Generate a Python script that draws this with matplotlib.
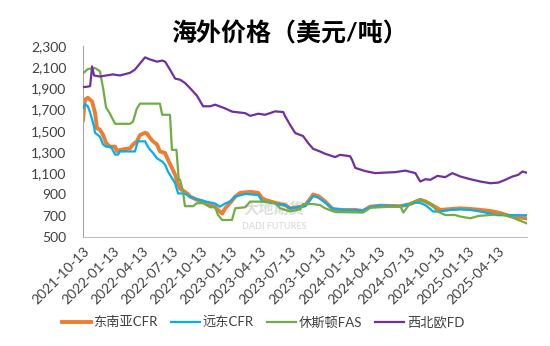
import matplotlib
matplotlib.use("Agg")
import matplotlib.pyplot as plt
import matplotlib.dates as mdates
from matplotlib.ticker import FuncFormatter
import pandas as pd

plt.rcParams['font.family'] = ['Lato', 'Noto Sans CJK SC', 'DejaVu Sans']

# 东南亚CFR
sea_dates = ['2021-10-13', '2021-10-19', '2021-10-28', '2021-11-10', '2021-11-19', '2021-11-25',
             '2021-12-04', '2021-12-14', '2021-12-23', '2022-01-04', '2022-01-20', '2022-01-26',
             '2022-02-04', '2022-03-07', '2022-03-16', '2022-03-28', '2022-04-07', '2022-04-22',
             '2022-04-28', '2022-05-08', '2022-05-17', '2022-05-29', '2022-06-07', '2022-06-23',
             '2022-07-02', '2022-07-14', '2022-07-24', '2022-07-30', '2022-08-08', '2022-08-23',
             '2022-08-30', '2022-09-08', '2022-09-29', '2022-10-18', '2022-11-09', '2022-11-24',
             '2022-12-03', '2022-12-16', '2022-12-25', '2023-01-09', '2023-01-25', '2023-02-09',
             '2023-03-12', '2023-04-06', '2023-04-18', '2023-04-27', '2023-05-19', '2023-06-06',
             '2023-06-28', '2023-07-13', '2023-08-13', '2023-08-29', '2023-09-13', '2023-09-22',
             '2023-10-08', '2023-10-29', '2023-11-14', '2023-11-23', '2023-12-24', '2024-01-30',
             '2024-02-23', '2024-03-16', '2024-04-16', '2024-06-17', '2024-07-17', '2024-08-17',
             '2024-09-02', '2024-09-23', '2024-10-18', '2024-12-19', '2025-02-03', '2025-03-21',
             '2025-04-21', '2025-05-22', '2025-07-10']
sea_vals = [1600, 1790, 1810, 1775, 1670, 1525,
            1510, 1460, 1385, 1350, 1350, 1305,
            1320, 1335, 1370, 1400, 1460, 1480,
            1475, 1430, 1400, 1370, 1305, 1290,
            1225, 1150, 1085, 1020, 955, 925,
            910, 880, 850, 835, 800, 785,
            755, 720, 770, 820, 880, 915,
            925, 915, 865, 850, 830, 815,
            800, 770, 785, 800, 860, 900,
            885, 835, 785, 760, 755, 755,
            745, 785, 795, 790, 810, 850,
            835, 800, 755, 770, 760, 745,
            725, 695, 675]

# 远东CFR
fe_dates = ['2021-10-13', '2021-10-19', '2021-10-28', '2021-11-04', '2021-11-16', '2021-11-19',
            '2021-12-04', '2021-12-14', '2021-12-23', '2022-01-07', '2022-01-20', '2022-01-29',
            '2022-02-04', '2022-03-22', '2022-03-31', '2022-04-22', '2022-05-01', '2022-05-08',
            '2022-05-17', '2022-05-29', '2022-06-14', '2022-06-23', '2022-07-02', '2022-07-14',
            '2022-07-24', '2022-08-02', '2022-08-20', '2022-08-30', '2022-09-08', '2022-09-29',
            '2022-10-24', '2022-11-24', '2022-12-09', '2022-12-25', '2023-01-09', '2023-01-25',
            '2023-02-25', '2023-04-06', '2023-04-18', '2023-05-28', '2023-06-28', '2023-07-13',
            '2023-08-29', '2023-09-13', '2023-09-22', '2023-10-08', '2023-10-29', '2023-11-20',
            '2023-12-24', '2024-02-23', '2024-03-16', '2024-04-16', '2024-06-17', '2024-07-17',
            '2024-08-02', '2024-08-17', '2024-09-02', '2024-09-26', '2024-10-18', '2024-11-18',
            '2024-12-19', '2025-01-18', '2025-02-18', '2025-03-21', '2025-04-12', '2025-07-10']
fe_vals = [1715, 1750, 1730, 1670, 1540, 1480,
           1445, 1370, 1350, 1350, 1275, 1275,
           1305, 1305, 1400, 1400, 1350, 1320,
           1290, 1240, 1210, 1180, 1115, 1055,
           1005, 910, 910, 895, 880, 855,
           835, 815, 785, 815, 835, 880,
           905, 895, 835, 815, 800, 770,
           790, 850, 885, 870, 825, 770,
           755, 750, 785, 795, 790, 810,
           825, 820, 800, 740, 740, 755,
           760, 755, 740, 720, 705, 705]

# 休斯顿FAS
hou_dates = ['2021-10-13', '2021-10-28', '2021-11-19', '2021-12-04', '2021-12-14', '2021-12-23',
             '2022-01-04', '2022-01-20', '2022-03-07', '2022-03-16', '2022-03-28', '2022-04-07',
             '2022-06-07', '2022-06-14', '2022-07-08', '2022-07-14', '2022-07-28', '2022-08-04',
             '2022-08-08', '2022-08-17', '2022-08-23', '2022-09-17', '2022-09-29', '2022-10-18',
             '2022-11-09', '2022-11-24', '2022-12-03', '2022-12-16', '2023-01-15', '2023-01-25',
             '2023-02-25', '2023-03-12', '2023-04-27', '2023-05-28', '2023-06-12', '2023-07-13',
             '2023-08-13', '2023-08-22', '2023-09-22', '2023-10-14', '2023-10-29', '2023-11-29',
             '2024-02-23', '2024-03-16', '2024-06-17', '2024-06-26', '2024-07-17', '2024-08-17',
             '2024-09-02', '2024-09-23', '2024-10-09', '2024-11-02', '2024-12-03', '2024-12-19',
             '2025-01-18', '2025-02-12', '2025-03-21', '2025-04-21', '2025-05-22', '2025-06-15',
             '2025-07-10']
hou_vals = [2040, 2080, 2090, 2060, 1900, 1720,
            1660, 1565, 1565, 1585, 1710, 1755,
            1755, 1650, 1650, 1320, 1320, 1040,
            1040, 930, 790, 790, 818, 818,
            780, 780, 707, 660, 660, 770,
            780, 833, 833, 818, 771, 740,
            760, 810, 810, 800, 770, 735,
            730, 775, 790, 730, 818, 855,
            833, 800, 740, 707, 707, 692,
            676, 698, 707, 717, 692, 660,
            630]

# 西北欧FD
nwe_dates = ['2021-10-13', '2021-10-28', '2021-11-04', '2021-11-10', '2021-11-16', '2021-12-04',
             '2022-01-13', '2022-02-04', '2022-03-07', '2022-03-22', '2022-04-22', '2022-05-08',
             '2022-05-29', '2022-06-14', '2022-06-23', '2022-07-08', '2022-07-24', '2022-08-08',
             '2022-08-23', '2022-09-08', '2022-09-29', '2022-10-18', '2022-11-09', '2022-11-24',
             '2022-12-25', '2023-01-15', '2023-02-25', '2023-03-12', '2023-04-06', '2023-04-27',
             '2023-05-28', '2023-06-22', '2023-06-28', '2023-07-13', '2023-07-29', '2023-08-22',
             '2023-09-07', '2023-09-22', '2023-10-14', '2023-10-29', '2023-11-29', '2023-12-14',
             '2024-01-14', '2024-01-20', '2024-01-30', '2024-03-01', '2024-03-31', '2024-05-01',
             '2024-06-01', '2024-07-02', '2024-08-02', '2024-08-17', '2024-09-02', '2024-09-17',
             '2024-10-09', '2024-11-02', '2024-11-24', '2024-12-19', '2025-01-18', '2025-02-18',
             '2025-03-21', '2025-04-15', '2025-05-06', '2025-05-28', '2025-06-15', '2025-06-28',
             '2025-07-10']
nwe_vals = [1910, 1915, 1920, 2105, 2020, 2010,
            2030, 2020, 2045, 2075, 2190, 2170,
            2150, 2160, 2150, 2075, 1990, 1980,
            1950, 1900, 1830, 1730, 1730, 1745,
            1710, 1680, 1665, 1640, 1660, 1650,
            1682, 1676, 1635, 1556, 1478, 1450,
            1383, 1330, 1304, 1283, 1252, 1273,
            1260, 1226, 1150, 1120, 1101, 1106,
            1110, 1125, 1101, 1022, 1044, 1038,
            1075, 1063, 1101, 1069, 1044, 1022,
            1006, 1012, 1038, 1069, 1085, 1116,
            1106]

tick_dates = pd.date_range('2021-10-01', '2025-04-01', freq='3MS') + pd.Timedelta(days=12)

fig = plt.figure(figsize=(5.5, 3.46), dpi=100)
ax = fig.add_axes([83 / 550, 1 - 237 / 346, (527 - 83) / 550, (237 - 45.7) / 346])

ax.plot(pd.to_datetime(sea_dates), sea_vals, color='#ED7D31', lw=2.8, label='东南亚CFR', zorder=2)
ax.plot(pd.to_datetime(fe_dates), fe_vals, color='#00B0F0', lw=1.6, label='远东CFR', zorder=3)
ax.plot(pd.to_datetime(hou_dates), hou_vals, color='#70AD47', lw=1.6, label='休斯顿FAS', zorder=4)
ax.plot(pd.to_datetime(nwe_dates), nwe_vals, color='#7030A0', lw=1.6, label='西北欧FD', zorder=5)

# watermark
ax.text(0.43, 0.145, '大地期货', transform=ax.transAxes, fontsize=11, fontweight='bold',
        color='#C9C9C9', alpha=0.6, ha='center', va='center', zorder=1)
ax.text(0.43, 0.055, 'DADI FUTURES', transform=ax.transAxes, fontsize=6.5, fontweight='bold',
        color='#C9C9C9', alpha=0.6, ha='center', va='center', zorder=1)

ax.set_xlim(pd.Timestamp('2021-10-13'), pd.Timestamp('2025-07-12'))
ax.set_ylim(500, 2300)
ax.set_yticks(range(500, 2301, 200))
ax.yaxis.set_major_formatter(FuncFormatter(lambda v, p: f'{int(v):,}'))
ax.set_xticks(tick_dates)
ax.xaxis.set_major_formatter(mdates.DateFormatter('%Y-%m-%d'))
for lab in ax.get_xticklabels():
    lab.set_rotation(45)
    lab.set_ha('right')
    lab.set_rotation_mode('anchor')
ax.tick_params(axis='both', length=0, labelsize=10, colors='#404040')
ax.tick_params(axis='x', pad=6)
ax.tick_params(axis='y', pad=12)

for s in ['top', 'right']:
    ax.spines[s].set_visible(False)
ax.spines['left'].set_color('#A6A6A6')
ax.spines['bottom'].set_color('#BFBFBF')

fig.text(289 / 550, 1 - 33 / 346, '海外价格（美元/吨）', fontsize=18, fontweight='bold',
         ha='center', va='center', color='#000000')

fig.legend(loc='center', bbox_to_anchor=(263 / 550, 1 - 322 / 346), ncol=4, frameon=False,
           fontsize=9.5, handlelength=2.2, handletextpad=0.2, columnspacing=1.0,
           labelcolor='#404040')

fig.savefig('out.png', dpi=100)
